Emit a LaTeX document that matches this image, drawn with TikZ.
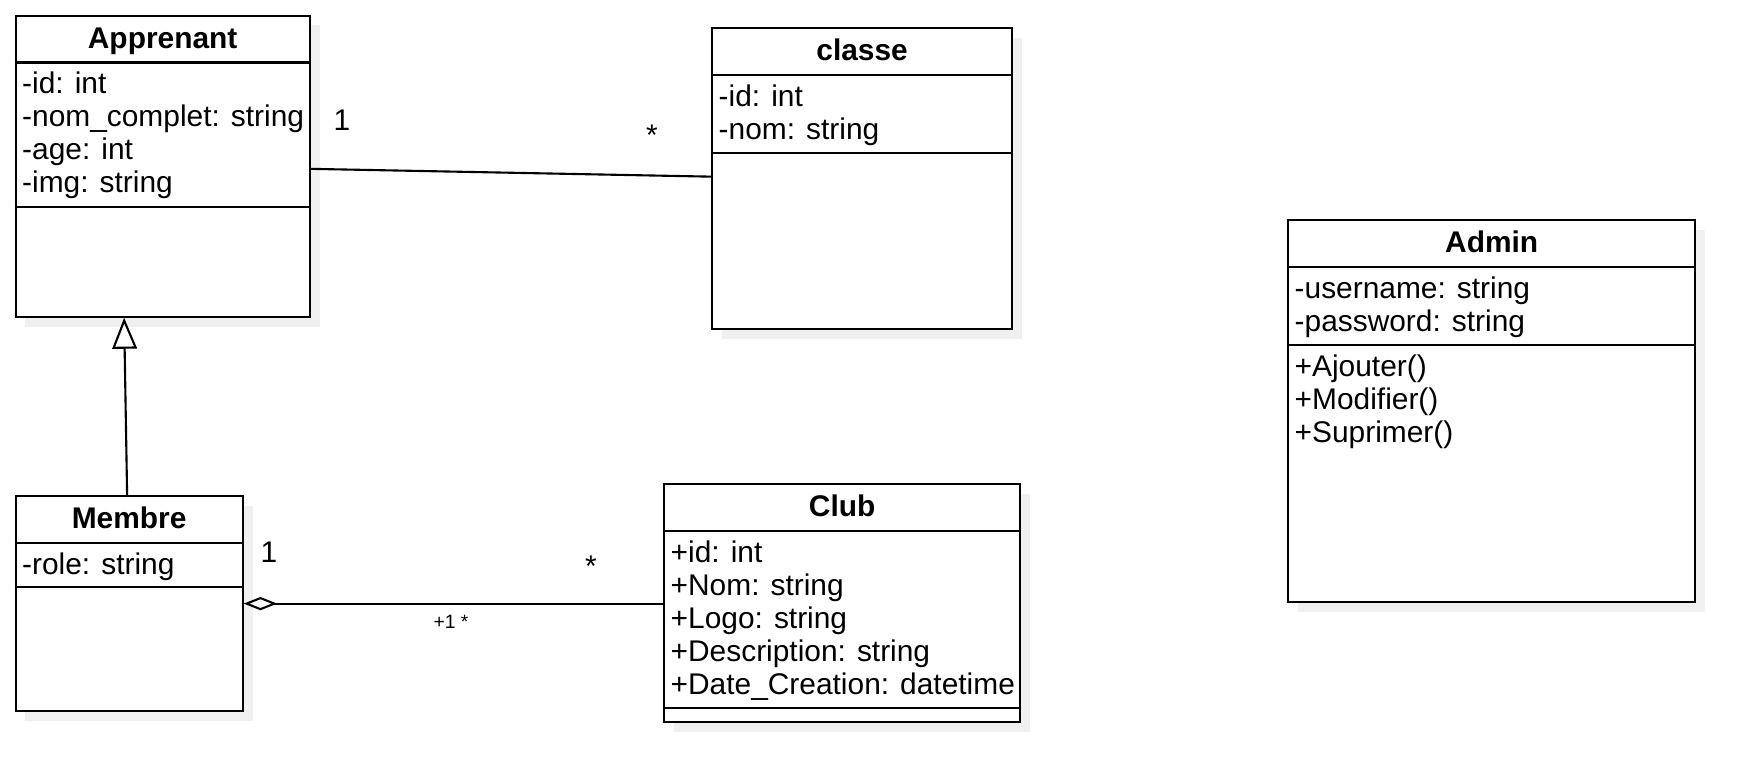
\documentclass[tikz,border=0pt]{standalone}
\usepackage{fontspec}
\setmainfont{Liberation Sans}
\usetikzlibrary{positioning, arrows.meta, shadows}

\begin{document}
\begin{tikzpicture}[
        x=0.01cm, y=-0.01cm,
        umlclass/.style={draw, line width=0.6pt, fill=white, anchor=north west, inner sep=0pt,
            drop shadow={shadow xshift=2.8pt, shadow yshift=-2.8pt, fill=black!6, opacity=1}},
        classname/.style={anchor=base, inner sep=0pt, font=\fontsize{8.5pt}{9.4pt}\selectfont\bfseries},
        members/.style={anchor=north west, inner sep=0pt, align=left, font=\fontsize{8.5pt}{9.39pt}\selectfont},
        mult/.style={inner sep=0pt, font=\fontsize{8.5pt}{9.4pt}\selectfont},
        line/.style={line width=0.6pt},
        generalize/.style={line width=0.6pt, -{Triangle[open, length=8.8pt, width=7pt]}},
        aggregate/.style={line width=0.6pt, {Diamond[open, length=9.5pt, width=3.8pt]}-}
    ]

    \useasboundingbox (0,0) rectangle (1753,781);

    % Classes
    \node[umlclass, minimum width=2.94cm, minimum height=3.01cm] (Apprenant) at (14.5,14.5) {};
    \node[umlclass, minimum width=3cm, minimum height=3.01cm] (classe) at (711,27) {};
    \node[umlclass, minimum width=4.07cm, minimum height=3.82cm] (Admin) at (1287,219) {};
    \node[umlclass, minimum width=2.27cm, minimum height=2.15cm] (Membre) at (14.5,495) {};
    \node[umlclass, minimum width=3.56cm, minimum height=2.38cm] (Club) at (663,483) {};

    % Compartments
    \draw[line] ([yshift=-0.48cm]Apprenant.north west) -- ([yshift=-0.48cm]Apprenant.north east);
    \draw[line] ([yshift=-1.92cm]Apprenant.north west) -- ([yshift=-1.92cm]Apprenant.north east);
    \draw[line] ([yshift=-0.48cm]classe.north west) -- ([yshift=-0.48cm]classe.north east);
    \draw[line] ([yshift=-1.26cm]classe.north west) -- ([yshift=-1.26cm]classe.north east);
    \draw[line] ([yshift=-0.48cm]Admin.north west) -- ([yshift=-0.48cm]Admin.north east);
    \draw[line] ([yshift=-1.26cm]Admin.north west) -- ([yshift=-1.26cm]Admin.north east);
    \draw[line] ([yshift=-0.48cm]Membre.north west) -- ([yshift=-0.48cm]Membre.north east);
    \draw[line] ([yshift=-0.92cm]Membre.north west) -- ([yshift=-0.92cm]Membre.north east);
    \draw[line] ([yshift=-0.48cm]Club.north west) -- ([yshift=-0.48cm]Club.north east);
    \draw[line] ([yshift=-2.25cm]Club.north west) -- ([yshift=-2.25cm]Club.north east);

    % Names
    \node[classname] (ApprenantName) at ([yshift=-0.335cm]Apprenant.north) {Apprenant};
    \node[classname] (classeName) at ([yshift=-0.335cm]classe.north) {classe};
    \node[classname] (AdminName) at ([yshift=-0.335cm]Admin.north) {Admin};
    \node[classname] (MembreName) at ([yshift=-0.335cm]Membre.north) {Membre};
    \node[classname] (ClubName) at ([yshift=-0.335cm]Club.north) {Club};

    % Attributes and operations
    \node[members] (ApprenantAttr) at ([xshift=0.07cm, yshift=-0.57cm]Apprenant.north west)
        {-id: int\\-nom\_complet: string\\-age: int\\-img: string};
    \node[members] (classeAttr) at ([xshift=0.07cm, yshift=-0.57cm]classe.north west)
        {-id: int\\-nom: string};
    \node[members] (AdminAttr) at ([xshift=0.07cm, yshift=-0.57cm]Admin.north west)
        {-username: string\\-password: string};
    \node[members] (AdminOps) at ([xshift=0.07cm, yshift=-1.35cm]Admin.north west)
        {+Ajouter()\\+Modifier()\\+Suprimer()};
    \node[members] (MembreAttr) at ([xshift=0.07cm, yshift=-0.57cm]Membre.north west)
        {-role: string};
    \node[members] (ClubAttr) at ([xshift=0.07cm, yshift=-0.57cm]Club.north west)
        {+id: int\\+Nom: string\\+Logo: string\\+Description: string\\+Date\_Creation: datetime};

    % Relations
    \draw[line] ([yshift=-0.027cm]Apprenant.east) -- ([yshift=0.02cm]classe.west);
    \draw[generalize] ([xshift=-0.02cm]Membre.north) -- ([xshift=-0.05cm]Membre.north |- Apprenant.south);
    \draw[aggregate] (Membre.east) -- (Membre.east -| Club.west);

    % Multiplicities
    \node[mult] (multApprenant) at (342,120) {1};
    \node[mult] (multClasse) at (652,135) {*};
    \node[mult] (multMembre) at (269,552) {1};
    \node[mult] (multClub) at (591,566) {*};
    \node[mult, font=\fontsize{5.5pt}{6pt}\selectfont] (multRole) at (451,622) {+1 *};

\end{tikzpicture}
\end{document}
